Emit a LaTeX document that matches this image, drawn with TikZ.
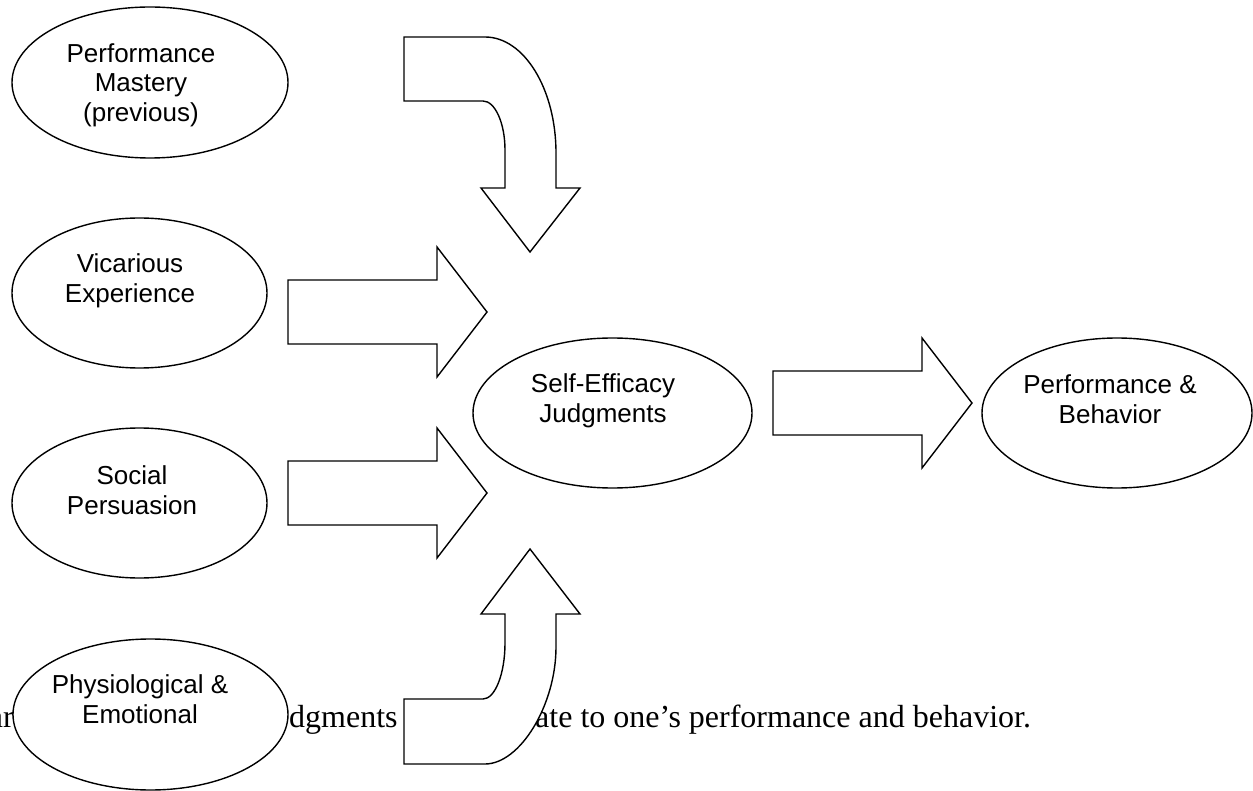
\documentclass[tikz,border=0pt]{standalone}
\usepackage{fontspec}
\setmainfont{Liberation Serif}
\newfontfamily\arialfont{Liberation Sans}
\usetikzlibrary{shapes.geometric}
\tikzset{
  oval/.style={ellipse, draw, fill=white, line width=1.4pt, inner sep=0pt, outer sep=0pt},
  lbl/.style={font=\arialfont\fontsize{26}{29.5}\selectfont, align=center, inner sep=0pt},
  body/.style={font=\fontsize{32}{38}\selectfont, inner sep=0pt},
  blockarrow/.style={draw, fill=white, line width=1.4pt, line join=miter},
  rightarrow/.pic={\draw[blockarrow] (0,-32) -- (149,-32) -- (149,-65) -- (199,0) -- (149,65) -- (149,32) -- (0,32) -- cycle;}
}
\begin{document}
\begin{tikzpicture}[x=1pt, y=-1pt, line cap=round]
  \useasboundingbox (0,0) rectangle (1253,791);
  % text of the page behind the figure
  \node[body, anchor=base east] (txtA) at (14,727) {ar};
  \node[body, anchor=base west] (txtB) at (289,727) {dgments};
  \node[body, anchor=base west] (txtC) at (535,727) {ate to one’s performance and behavior.};
  % sources
  \node[oval, minimum width=276, minimum height=151] (mastery) at (150,82.5) {};
  \node[lbl] (masteryT) at (141,85) {Performance\\Mastery\\(previous)};
  \node[oval, minimum width=255, minimum height=150] (vicar) at (139.5,293) {};
  \node[lbl] (vicarT) at (130,281) {Vicarious\\Experience};
  \node[oval, minimum width=255, minimum height=150] (social) at (139.5,503) {};
  \node[lbl] (socialT) at (132,490) {Social\\Persuasion};
  \node[oval, minimum width=275, minimum height=151] (physio) at (150.5,714.5) {};
  \node[lbl] (physioT) at (140,699) {Physiological \&\\Emotional};
  % judgments and outcome
  \node[oval, minimum width=279, minimum height=150] (selfeff) at (612.5,413) {};
  \node[lbl] (selfeffT) at (603,401) {Self-Efficacy\\Judgments};
  \node[oval, minimum width=270, minimum height=150] (perf) at (1117,413) {};
  \node[lbl] (perfT) at (1110,399) {Performance \&\\Behavior};
  % block arrows
  \pic at (288,312) {rightarrow};
  \pic at (288,493) {rightarrow};
  \pic at (773,403) {rightarrow};
  \draw[blockarrow] (404,37) -- (485,37) .. controls (524,37) and (556,89) .. (556,153)
    -- (556,188) -- (580,188) -- (530,252) -- (481,188) -- (505,188) -- (505,150)
    .. controls (505,123) and (495,101) .. (483,101) -- (404,101) -- cycle;
  \draw[blockarrow] (404,764) -- (485,764) .. controls (520,764) and (556,705) .. (556,647)
    -- (556,614) -- (580,614) -- (530,549) -- (481,614) -- (505,614) -- (505,643)
    .. controls (505,674) and (495,699) .. (483,699) -- (404,699) -- cycle;
\end{tikzpicture}
\end{document}
